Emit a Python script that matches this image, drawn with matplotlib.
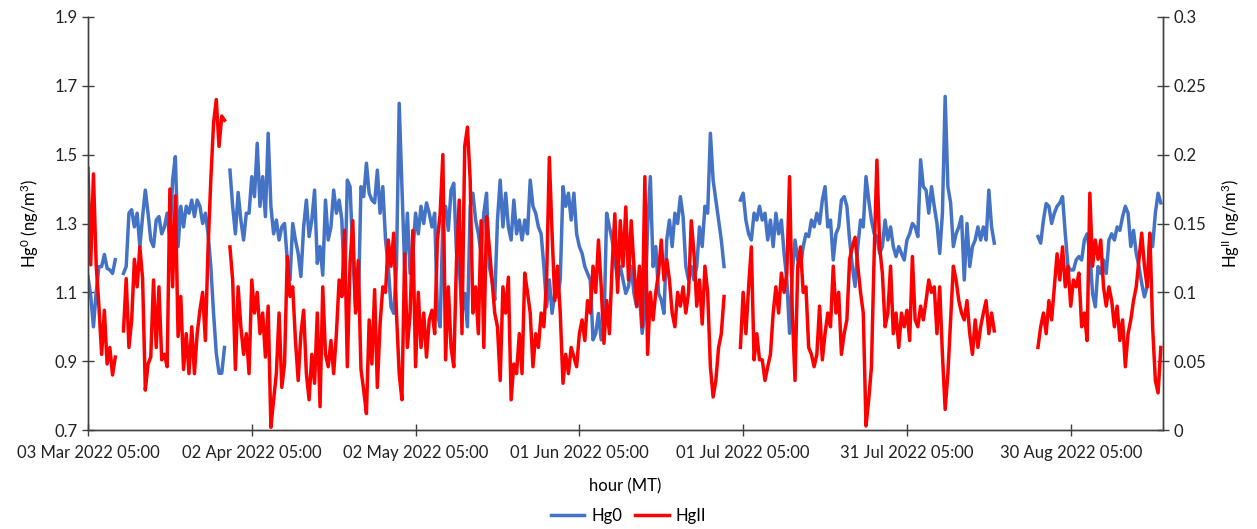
import numpy as np
import pandas as pd
import matplotlib
matplotlib.use("Agg")
import matplotlib.pyplot as plt
import matplotlib.ticker as mticker

# ====== data (12-hourly readings from 03 Mar 2022 05:00) ======
start = "2022-03-03 05:00"
nan = np.nan

hg0 = [
    1.145, 1.09, 1.0, 1.1, 1.175, 1.175, 1.21, 1.17, 1.165, 1.155,
    1.195, nan, nan, 1.155, 1.175, 1.33, 1.34, 1.29, 1.33, 1.233,
    1.32, 1.397, 1.33, 1.252, 1.233, 1.31, 1.32, 1.27, 1.29, 1.33,
    1.252, 1.426, 1.494, 1.233, 1.35, 1.29, 1.35, 1.33, 1.368, 1.32,
    1.368, 1.35, 1.30, 1.33, 1.27, 1.175, 1.039, 0.923, 0.865, 0.865,
    0.94, nan, 1.455, 1.35, 1.27, 1.39, 1.31, 1.252, 1.33, 1.33,
    1.436, 1.378, 1.533, 1.35, 1.436, 1.32, 1.562, 1.35, 1.27, 1.31,
    1.252, 1.29, 1.30, 1.194, 1.136, 1.30, 1.252, 1.213, 1.146, 1.29,
    1.368, 1.262, 1.31, 1.397, 1.184, 1.233, 1.15, 1.368, 1.252, 1.29,
    1.397, 1.33, 1.368, 1.31, 1.097, 1.426, 1.407, 1.213, 1.058, 1.05,
    1.407, 1.378, 1.475, 1.388, 1.368, 1.36, 1.455, 1.33, 1.407, 1.252,
    1.175, 1.058, 1.039, 1.175, 1.649, 1.407, 1.175, 1.33, 1.155, 1.213,
    1.33, 1.27, 1.35, 1.30, 1.36, 1.33, 1.29, 1.33, 1.039, 1.0,
    1.31, 1.35, 1.28, 1.397, 1.417, 1.213, 1.175, 1.039, 1.097, 1.0,
    1.35, 1.388, 1.31, 1.27, 1.213, 1.33, 1.388, 1.175, 1.136, 1.078,
    1.31, 1.426, 1.29, 1.388, 1.29, 1.252, 1.368, 1.27, 1.31, 1.252,
    1.31, 1.27, 1.426, 1.35, 1.33, 1.29, 1.27, 1.175, 1.058, 1.136,
    1.039, 1.097, 1.087, 1.136, 1.407, 1.35, 1.388, 1.31, 1.388, 1.27,
    1.233, 1.213, 1.175, 1.155, 1.136, 0.962, 0.981, 1.039, 0.962, 1.0,
    1.33, 1.29, 1.252, 1.194, 1.136, 1.175, 1.136, 1.097, 1.117, 1.175,
    1.097, 1.058, 1.097, 0.981, 1.039, 1.29, 1.436, 1.175, 1.233, 1.097,
    1.078, 1.039, 1.252, 1.31, 1.233, 1.33, 1.30, 1.378, 1.32, 1.175,
    1.136, 1.175, 1.136, 1.175, 1.29, 1.233, 1.35, 1.33, 1.562, 1.426,
    1.368, 1.31, 1.252, 1.175, nan, nan, nan, nan, nan, 1.368,
    1.388, 1.31, 1.27, 1.252, 1.33, 1.31, 1.35, 1.31, 1.33, 1.252,
    1.31, 1.233, 1.33, 1.27, 1.31, 1.213, 1.136, 0.981, 1.155, 1.252,
    1.194, 1.175, 1.233, 1.27, 1.262, 1.31, 1.29, 1.33, 1.30, 1.368,
    1.407, 1.29, 1.31, 1.194, 1.27, 1.29, 1.368, 1.378, 1.35, 1.252,
    1.175, 1.117, 1.233, 1.31, 1.29, 1.436, 1.368, 1.31, 1.27, 1.262,
    1.213, 1.233, 1.31, 1.252, 1.29, 1.233, 1.204, 1.233, 1.213, 1.194,
    1.252, 1.27, 1.30, 1.29, 1.262, 1.485, 1.407, 1.397, 1.33, 1.407,
    1.35, 1.30, 1.213, 1.33, 1.669, 1.407, 1.36, 1.233, 1.27, 1.29,
    1.32, 1.136, 1.30, 1.175, 1.233, 1.252, 1.29, 1.252, 1.29, 1.252,
    1.397, 1.29, 1.243, nan, nan, nan, nan, nan, nan, nan,
    nan, nan, nan, nan, nan, nan, nan, nan, 1.262, 1.243,
    1.31, 1.358, 1.35, 1.30, 1.33, 1.35, 1.36, 1.378, 1.27, 1.175,
    1.165, 1.165, 1.194, 1.204, 1.194, 1.252, 1.27, 1.213, 1.097, 1.058,
    1.175, 1.155, 1.194, 1.155, 1.252, 1.27, 1.252, 1.29, 1.28, 1.32,
    1.35, 1.33, 1.233, 1.28, 1.213, 1.175, 1.126, 1.087, 1.117, 1.27,
    1.233, 1.33, 1.388, 1.36,
]

hg2 = [
    0.19, 0.12, 0.186, 0.12, 0.09, 0.055, 0.087, 0.048, 0.06, 0.04,
    0.053, nan, nan, 0.072, 0.11, 0.06, 0.08, 0.124, 0.104, 0.133,
    0.11, 0.029, 0.048, 0.053, 0.109, 0.06, 0.104, 0.051, 0.055, 0.046,
    0.175, 0.104, 0.17, 0.068, 0.097, 0.044, 0.07, 0.041, 0.075, 0.041,
    0.07, 0.087, 0.1, 0.065, 0.133, 0.182, 0.223, 0.24, 0.206, 0.228,
    0.225, nan, 0.133, 0.109, 0.044, 0.104, 0.075, 0.055, 0.07, 0.041,
    0.109, 0.085, 0.1, 0.07, 0.085, 0.053, 0.09, 0.002, 0.022, 0.041,
    0.085, 0.031, 0.048, 0.126, 0.097, 0.104, 0.065, 0.036, 0.07, 0.087,
    0.041, 0.022, 0.055, 0.034, 0.085, 0.017, 0.104, 0.055, 0.046, 0.065,
    0.041, 0.07, 0.109, 0.097, 0.145, 0.046, 0.121, 0.152, 0.085, 0.123,
    0.044, 0.029, 0.012, 0.08, 0.048, 0.102, 0.031, 0.077, 0.104, 0.1,
    0.138, 0.119, 0.143, 0.085, 0.041, 0.022, 0.128, 0.06, 0.085, 0.145,
    0.046, 0.1, 0.06, 0.085, 0.053, 0.08, 0.087, 0.07, 0.138, 0.157,
    0.2, 0.051, 0.104, 0.06, 0.046, 0.124, 0.167, 0.07, 0.206, 0.22,
    0.182, 0.085, 0.104, 0.07, 0.152, 0.06, 0.155, 0.133, 0.109, 0.085,
    0.075, 0.036, 0.104, 0.085, 0.111, 0.022, 0.048, 0.041, 0.07, 0.041,
    0.114, 0.1, 0.085, 0.046, 0.07, 0.06, 0.085, 0.075, 0.109, 0.198,
    0.143, 0.094, 0.119, 0.085, 0.034, 0.055, 0.041, 0.06, 0.053, 0.046,
    0.07, 0.08, 0.065, 0.094, 0.085, 0.119, 0.1, 0.138, 0.104, 0.063,
    0.094, 0.07, 0.119, 0.157, 0.1, 0.152, 0.119, 0.162, 0.109, 0.152,
    0.119, 0.09, 0.119, 0.075, 0.184, 0.055, 0.1, 0.08, 0.1, 0.114,
    0.138, 0.109, 0.124, 0.109, 0.085, 0.075, 0.1, 0.09, 0.104, 0.085,
    0.1, 0.152, 0.128, 0.09, 0.109, 0.077, 0.119, 0.1, 0.046, 0.024,
    0.036, 0.06, 0.07, 0.097, nan, nan, nan, nan, nan, 0.06,
    0.1, 0.07, 0.104, 0.133, 0.051, 0.07, 0.051, 0.051, 0.036, 0.046,
    0.055, 0.085, 0.104, 0.085, 0.114, 0.1, 0.114, 0.184, 0.085, 0.036,
    0.119, 0.133, 0.1, 0.104, 0.06, 0.055, 0.046, 0.055, 0.09, 0.051,
    0.07, 0.085, 0.075, 0.119, 0.085, 0.1, 0.055, 0.07, 0.08, 0.124,
    0.133, 0.14, 0.119, 0.1, 0.085, 0.003, 0.022, 0.046, 0.128, 0.196,
    0.133, 0.114, 0.075, 0.085, 0.119, 0.07, 0.085, 0.06, 0.085, 0.075,
    0.087, 0.065, 0.126, 0.08, 0.075, 0.09, 0.08, 0.094, 0.109, 0.1,
    0.104, 0.07, 0.104, 0.055, 0.015, 0.041, 0.08, 0.119, 0.109, 0.094,
    0.085, 0.08, 0.094, 0.07, 0.055, 0.08, 0.06, 0.075, 0.085, 0.094,
    0.07, 0.085, 0.072, nan, nan, nan, nan, nan, nan, nan,
    nan, nan, nan, nan, nan, nan, nan, nan, 0.06, 0.075,
    0.085, 0.07, 0.094, 0.08, 0.104, 0.128, 0.109, 0.133, 0.104, 0.119,
    0.09, 0.109, 0.104, 0.114, 0.075, 0.085, 0.065, 0.172, 0.119, 0.138,
    0.124, 0.138, 0.104, 0.09, 0.104, 0.094, 0.075, 0.09, 0.065, 0.08,
    0.046, 0.07, 0.08, 0.094, 0.104, 0.124, 0.143, 0.119, 0.104, 0.143,
    0.075, 0.036, 0.027, 0.06,
]

times = pd.date_range(start, periods=len(hg0), freq="12h")
tick_times = pd.date_range(start, periods=7, freq="30D")

# ====== style ======
plt.rcParams["font.family"] = ["Lato", "DejaVu Sans"]
plt.rcParams["mathtext.fontset"] = "custom"
plt.rcParams["mathtext.rm"] = "Lato"
plt.rcParams["mathtext.it"] = "Lato"
plt.rcParams["font.size"] = 11

blue = "#4472C4"
red = "#FF0000"

fig = plt.figure(figsize=(12.57, 5.29), dpi=100)
ax = fig.add_axes([0.070, 0.187, 0.855, 0.781])
ax2 = ax.twinx()

l1, = ax.plot(times, hg0, color=blue, lw=2.5, label="Hg0")
l2, = ax2.plot(times, hg2, color=red, lw=2.5, label="HgII")

ax.set_xlim(pd.Timestamp(start), pd.Timestamp(start) + pd.Timedelta(days=196.85))
ax.set_ylim(0.7, 1.9)
ax2.set_ylim(0, 0.3)
ax.set_yticks(np.arange(0.7, 1.91, 0.2))
ax2.set_yticks(np.arange(0, 0.301, 0.05))
ax.yaxis.set_major_formatter(mticker.FuncFormatter(lambda v, p: f"{v:.1f}"))
ax2.yaxis.set_major_formatter(mticker.FuncFormatter(lambda v, p: f"{v:g}"))
ax.set_xticks(tick_times)
ax.set_xticklabels([t.strftime("%d %b %Y %H:%M") for t in tick_times])

for a in (ax, ax2):
    a.spines["top"].set_visible(False)
    for s in ("left", "right", "bottom"):
        a.spines[s].set_color("#404040")
        a.spines[s].set_linewidth(1.0)
    a.tick_params(direction="inout", length=8, width=1.0, color="#404040",
                  labelsize=12, labelcolor="#222222")
ax.tick_params(axis="x", pad=7)

ax.set_xlabel("hour (MT)", fontsize=12, labelpad=12)
ax.set_ylabel("Hg$^{0}$ (ng/m$^{3}$)", fontsize=12, labelpad=10)
ax2.set_ylabel("Hg$^{\\mathrm{II}}$ (ng/m$^{3}$)", fontsize=12, labelpad=10)

fig.legend(handles=[l1, l2], loc="lower center", bbox_to_anchor=(0.5, -0.018),
           ncol=2, frameon=False, fontsize=12, handlelength=2.0,
           columnspacing=0.8, handletextpad=0.4)

plt.savefig("out.png", dpi=100)
plt.close()
